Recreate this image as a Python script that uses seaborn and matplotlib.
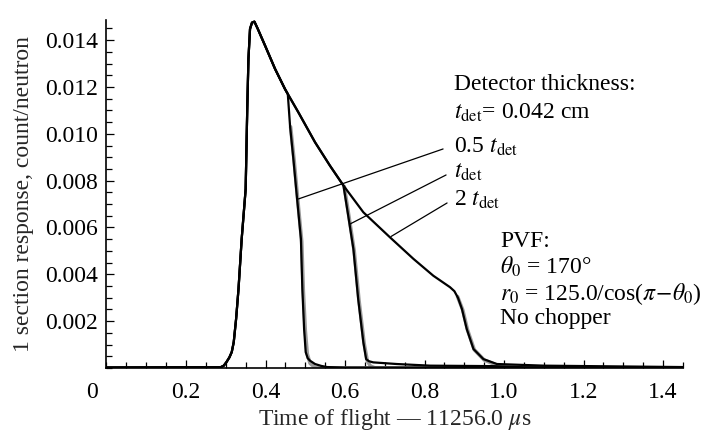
import numpy as np
import pandas as pd
import matplotlib
matplotlib.use("Agg")
import matplotlib.pyplot as plt
from matplotlib.ticker import FixedLocator, MultipleLocator
import seaborn as sns

# ---------------- data ----------------
# common rise and decay envelope (shared by all detector thicknesses)
rise_x = [0.0, 0.20, 0.28, 0.288, 0.295, 0.302, 0.309, 0.315, 0.320, 0.326, 0.332, 0.340, 0.350, 0.354, 0.357,
          0.361, 0.366, 0.372]
rise_y = [0.00002, 0.00003, 0.00003, 0.00004, 0.00010, 0.00026, 0.00045, 0.00068, 0.00110, 0.00210, 0.00337,
          0.00551, 0.00764, 0.01106, 0.01320, 0.01448, 0.01475, 0.01479]
env_x = [0.380, 0.399, 0.424, 0.449, 0.456]
env_y = [0.01450, 0.01376, 0.01277, 0.01191, 0.01170]

# 0.5 t_det
half_x = [0.4616, 0.470, 0.477, 0.489, 0.4926, 0.497, 0.501, 0.506, 0.512, 0.5245, 0.540, 0.555, 0.60, 1.45]
half_y = [0.01035, 0.00893, 0.00765, 0.00551, 0.00337, 0.00167, 0.00068, 0.00042, 0.00031, 0.00017, 0.00009,
          0.00004, 0.00002, 0.00001]
# t_det
one_x = [0.4825, 0.5245, 0.562, 0.596, 0.608, 0.621, 0.633, 0.646, 0.653, 0.660, 0.671, 0.730, 0.814, 0.972,
         1.05, 1.45]
one_y = [0.01092, 0.00964, 0.00864, 0.00779, 0.00650, 0.00508, 0.00295, 0.00110, 0.00038, 0.00029, 0.00024,
         0.00017, 0.00010, 0.00008, 0.00003, 0.00002]
# 2 t_det
two_x = [0.4825, 0.5245, 0.562, 0.596, 0.646, 0.713, 0.772, 0.822, 0.864, 0.875, 0.884, 0.894, 0.906, 0.923,
         0.948, 0.982, 1.10, 1.45]
two_y = [0.01092, 0.00964, 0.00864, 0.00779, 0.00665, 0.00558, 0.00466, 0.00394, 0.00345, 0.00328, 0.00300,
         0.00252, 0.00167, 0.00081, 0.00038, 0.00017, 0.00010, 0.00004]

# grey companion curves (visible only at the falling edges)
ghalf_x = [0.463, 0.472, 0.479, 0.491, 0.495, 0.500, 0.505, 0.512, 0.522, 0.535, 1.45]
ghalf_y = [0.01030, 0.00885, 0.00755, 0.00540, 0.00330, 0.00160, 0.00060, 0.00020, 0.00005, 0.0, 0.0]
gone_x = [0.598, 0.610, 0.623, 0.635, 0.648, 0.656, 0.664, 0.676, 1.45]
gone_y = [0.00775, 0.00645, 0.00500, 0.00290, 0.00105, 0.00030, 0.00008, 0.0, 0.0]
gtwo_x = [0.883, 0.896, 0.908, 0.925, 0.950, 0.985, 1.05, 1.45]
gtwo_y = [0.00305, 0.00248, 0.00163, 0.00078, 0.00034, 0.00010, 0.00002, 0.0]

ytick_vals = [0.002, 0.004, 0.006, 0.008, 0.010, 0.012, 0.014]
ytick_labels = ["0.002", "0.004", "0.006", "0.008", "0.010", "0.012", "0.014"]
xtick_vals = [0.2, 0.4, 0.6, 0.8, 1.0, 1.2, 1.4]
xtick_labels = ["0.2", "0.4", "0.6", "0.8", "1.0", "1.2", "1.4"]

# ---------------- style ----------------
sns.set_theme(style="ticks")
plt.rcParams["font.family"] = ["Liberation Serif", "DejaVu Serif"]
plt.rcParams["mathtext.fontset"] = "stix"
plt.rcParams["axes.edgecolor"] = "black"
plt.rcParams["text.color"] = "black"

fig = plt.figure(figsize=(7.08, 4.32), dpi=100)
ax = fig.add_axes([106.5 / 708, 64 / 432, (683 - 106.5) / 708, (368 - 20) / 432])

fs = 17
base_x = rise_x + env_x
base_y = rise_y + env_y

grey = "#9a9a9a"
for gx, gy in [(ghalf_x, ghalf_y), (gone_x, gone_y), (gtwo_x, gtwo_y)]:
    df = pd.DataFrame({"t": gx, "r": gy})
    sns.lineplot(data=df, x="t", y="r", ax=ax, color=grey, lw=2.6, estimator=None, sort=False)

curves = [
    (base_x + half_x, base_y + half_y),
    (base_x + one_x, base_y + one_y),
    (base_x + two_x, base_y + two_y),
]
for cx, cy in curves:
    df = pd.DataFrame({"t": cx, "r": cy})
    sns.lineplot(data=df, x="t", y="r", ax=ax, color="black", lw=1.6, estimator=None, sort=False)

ax.set_xlim(0, 1.45)
ax.set_ylim(0, 0.01486)
sns.despine(ax=ax)
for s in ["left", "bottom"]:
    ax.spines[s].set_linewidth(1.2)

ax.xaxis.set_major_locator(FixedLocator(xtick_vals))
ax.set_xticklabels(xtick_labels)
ax.xaxis.set_minor_locator(MultipleLocator(0.05))
ax.yaxis.set_major_locator(FixedLocator(ytick_vals))
ax.set_yticklabels(ytick_labels)
ax.yaxis.set_minor_locator(MultipleLocator(0.0005))
ax.tick_params(which="both", direction="in", colors="black", labelsize=fs, width=0.9)
ax.tick_params(which="major", length=5.5)
ax.tick_params(which="minor", length=4)
ax.tick_params(axis="x", which="major", pad=10)
ax.tick_params(axis="y", which="major", pad=6)

ax.set_xlabel("Time of flight \u2014 11256.0 $\\mu$s", fontsize=fs, labelpad=3)
ax.set_ylabel("1 section response, count/neutron", fontsize=fs, labelpad=8)
fig.text(92 / 708, 1 - 393 / 432, "0", fontsize=fs, ha="center", va="center")

# annotations
def px(xp, yp):
    return ((xp - 106.5) / 397.5, (369 - yp) / 23415.0)

tx = 454
for label, yp in [("Detector thickness:", 86),
                  (r"$t_{\mathrm{det}}$= 0.042 cm", 114),
                  (r"0.5 $t_{\mathrm{det}}$", 148),
                  (r"$t_{\mathrm{det}}$", 173),
                  (r"2 $t_{\mathrm{det}}$", 201)]:
    ax.text(*px(tx, yp), label, fontsize=fs, ha="left", va="center")

for label, yp in [("PVF:", 243),
                  (r"$\theta_0$ = 170°", 268),
                  (r"$r_0$ = 125.0/cos($\pi\!-\!\theta_0$)", 295),
                  ("No chopper", 320)]:
    ax.text(*px(500, yp), label, fontsize=fs, ha="left", va="center")

leaders = [((443, 150), (298.3, 200)),
           ((446, 176), (350, 225)),
           ((447, 204), (391, 237.5))]
for (x1, y1), (x2, y2) in leaders:
    a = px(x1, y1)
    b = px(x2, y2)
    ax.plot([a[0], b[0]], [a[1], b[1]], color="black", lw=0.9)

fig.savefig("out.png", dpi=100)
